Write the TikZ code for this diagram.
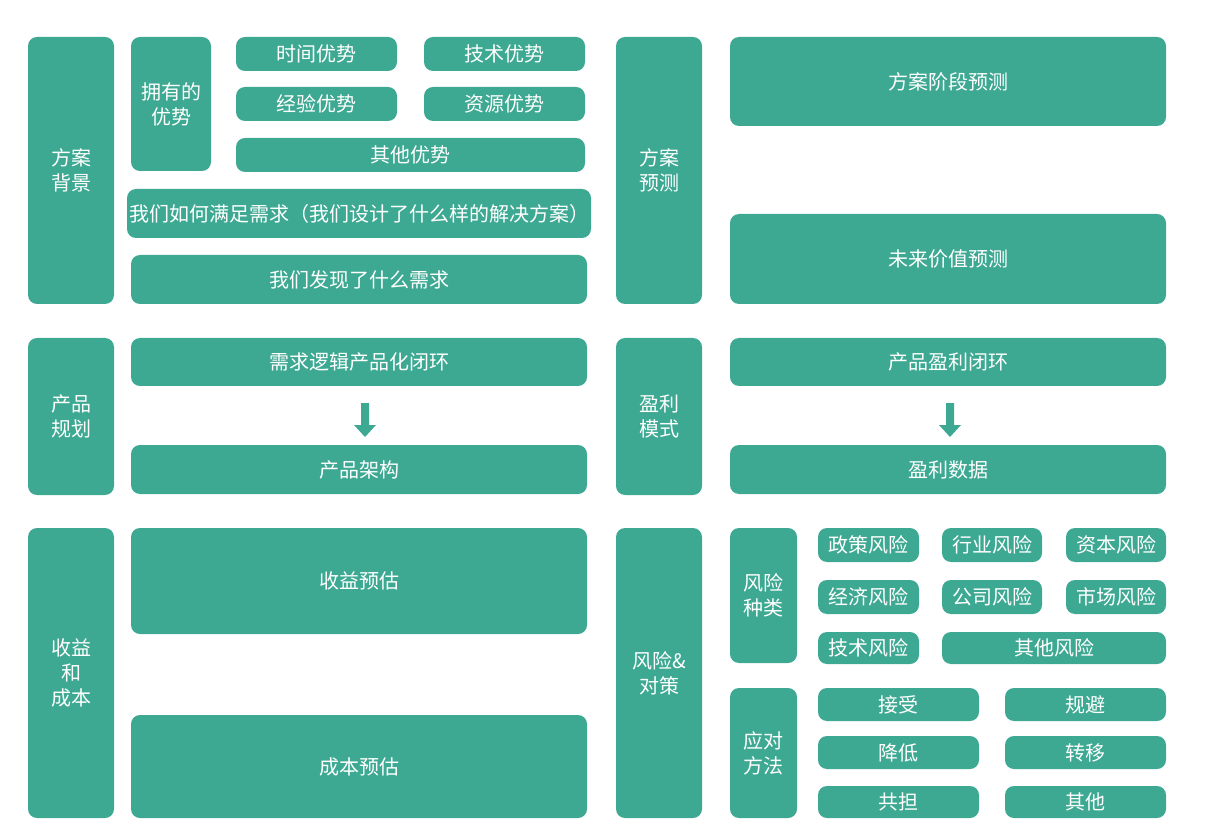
\documentclass[tikz,border=0pt]{standalone}
\usepackage{fontspec}
\setmainfont{Noto Sans CJK SC}
\definecolor{tealc}{HTML}{3EA992}
\tikzset{box/.style={fill=tealc,rounded corners=4.5pt,text=white,inner sep=1pt,align=center,font=\fontsize{10}{12.5}\selectfont}}
\newcommand\bx[6]{\node[box,minimum width={(#4-#2)*0.5pt},minimum height={(#5-#3)*0.5pt}] (#1) at ({(#2+#4)/2},{(#3+#5)/2}) {#6};}
\newcommand\darr[3]{\fill[tealc] (#1-4,#2) -- (#1+4,#2) -- (#1+4,#3-12) -- (#1+11,#3-12) -- (#1,#3) -- (#1-11,#3-12) -- (#1-4,#3-12) -- cycle;}
\begin{document}
\begin{tikzpicture}[x=0.5pt,y=-0.5pt]
\useasboundingbox (0,0) rectangle (1209,839);
\bx{a}{28}{37}{114}{304}{方案\\背景}
\bx{b}{28}{338}{114}{495}{产品\\规划}
\bx{c}{28}{528}{114}{818}{收益\\和\\成本}
\bx{d}{131}{37}{211}{171}{拥有的\\优势}
\bx{d1}{236}{37}{397}{71}{时间优势}
\bx{d2}{424}{37}{585}{71}{技术优势}
\bx{d3}{236}{87}{397}{121}{经验优势}
\bx{d4}{424}{87}{585}{121}{资源优势}
\bx{d5}{236}{138}{585}{172}{其他优势}
\bx{e}{131}{189}{587}{238}{我们如何满足需求（我们设计了什么样的解决方案）}
\bx{f}{131}{255}{587}{304}{我们发现了什么需求}
\bx{g}{131}{338}{587}{386}{需求逻辑产品化闭环}
\bx{h}{131}{445}{587}{494}{产品架构}
\bx{i}{131}{528}{587}{634}{收益预估}
\bx{j}{131}{715}{587}{818}{成本预估}
\bx{k}{616}{37}{702}{304}{方案\\预测}
\bx{k1}{730}{37}{1166}{126}{方案阶段预测}
\bx{k2}{730}{214}{1166}{304}{未来价值预测}
\bx{l}{616}{338}{702}{495}{盈利\\模式}
\bx{l1}{730}{338}{1166}{386}{产品盈利闭环}
\bx{l2}{730}{445}{1166}{494}{盈利数据}
\bx{m}{616}{528}{702}{818}{风险\&\\对策}
\bx{n}{730}{528}{797}{663}{风险\\种类}
\bx{n1}{818}{528}{919}{562}{政策风险}
\bx{n2}{942}{528}{1042}{562}{行业风险}
\bx{n3}{1066}{528}{1166}{562}{资本风险}
\bx{n4}{818}{580}{919}{614}{经济风险}
\bx{n5}{942}{580}{1042}{614}{公司风险}
\bx{n6}{1066}{580}{1166}{614}{市场风险}
\bx{n7}{818}{632}{919}{664}{技术风险}
\bx{n8}{942}{632}{1166}{664}{其他风险}
\bx{o}{730}{688}{797}{818}{应对\\方法}
\bx{o1}{818}{688}{979}{721}{接受}
\bx{o2}{1005}{688}{1166}{721}{规避}
\bx{o3}{818}{736}{979}{769}{降低}
\bx{o4}{1005}{736}{1166}{769}{转移}
\bx{o5}{818}{786}{979}{818}{共担}
\bx{o6}{1005}{786}{1166}{818}{其他}
\darr{365}{403}{437}
\darr{950}{403}{437}
\end{tikzpicture}
\end{document}
